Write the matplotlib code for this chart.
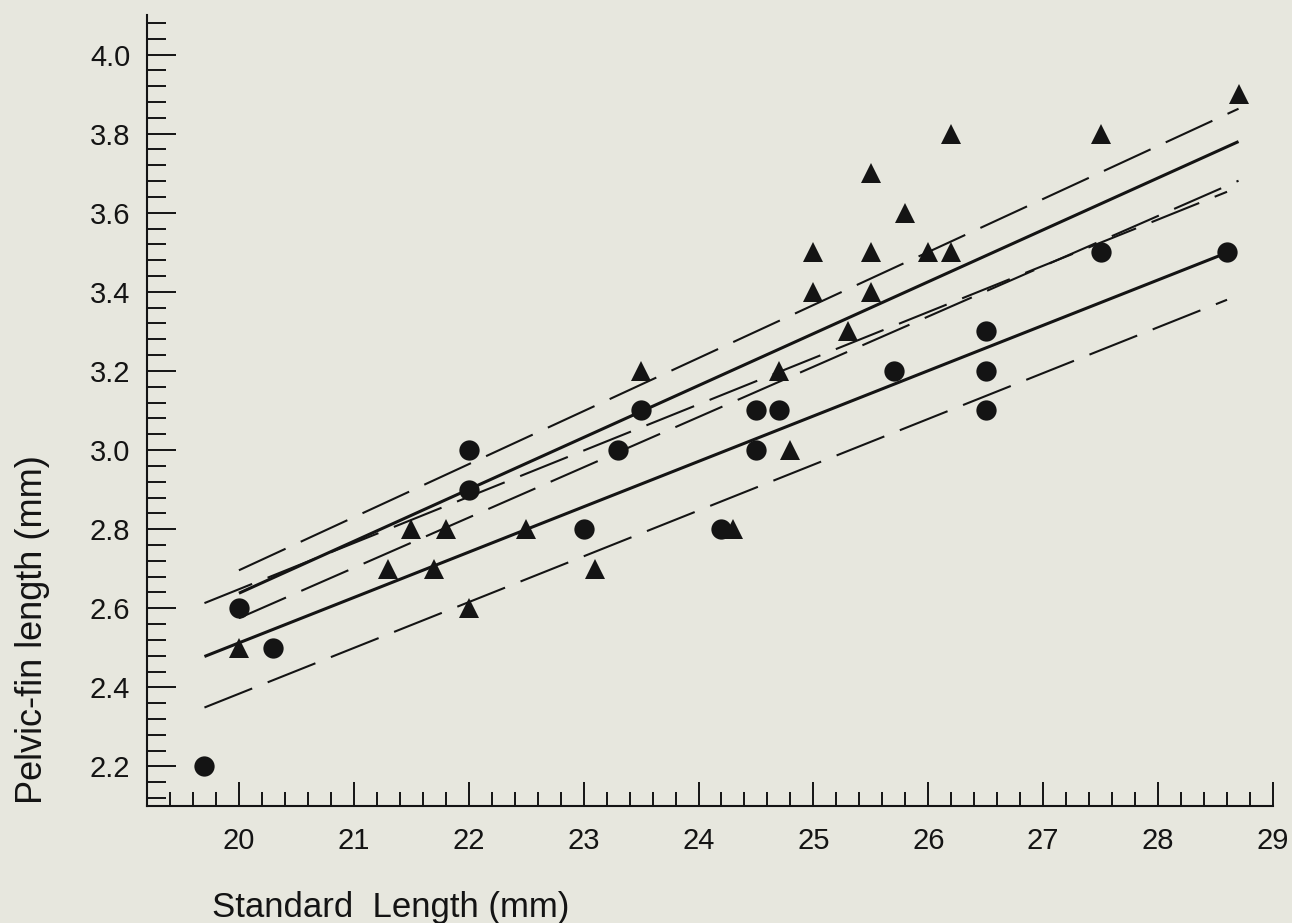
import matplotlib
matplotlib.use("Agg")
import matplotlib.pyplot as plt
from matplotlib.ticker import MultipleLocator, FormatStrFormatter

plt.rcParams['font.family'] = ['Liberation Sans', 'DejaVu Sans']
plt.rcParams['lines.scale_dashes'] = False

# ---- data ----
circle_x = [19.7, 20.0, 20.3, 22.0, 22.0, 23.0, 23.3, 23.5, 24.2, 24.5, 24.5,
            24.7, 25.7, 26.5, 26.5, 26.5, 27.5, 28.6]
circle_y = [2.2, 2.6, 2.5, 3.0, 2.9, 2.8, 3.0, 3.1, 2.8, 3.1, 3.0,
            3.1, 3.2, 3.3, 3.2, 3.1, 3.5, 3.5]

tri_x = [20.0, 21.3, 21.5, 21.7, 21.8, 22.0, 22.5, 23.1, 23.5, 24.3, 24.7, 24.8,
         25.0, 25.0, 25.3, 25.5, 25.5, 25.5, 25.8, 26.0, 26.2, 26.2, 27.5, 28.7]
tri_y = [2.5, 2.7, 2.8, 2.7, 2.8, 2.6, 2.8, 2.7, 3.2, 2.8, 3.2, 3.0,
         3.5, 3.4, 3.3, 3.7, 3.5, 3.4, 3.6, 3.5, 3.8, 3.5, 3.8, 3.9]

# regression lines and confidence bands (end points)
circle_line_x = [19.7, 28.6]
circle_fit_y = [2.478, 3.499]
circle_lo_y = [2.349, 3.380]
circle_hi_y = [2.613, 3.653]

tri_line_x = [20.0, 28.7]
tri_fit_y = [2.638, 3.780]
tri_lo_y = [2.575, 3.681]
tri_hi_y = [2.696, 3.863]

x_ticks = [20, 21, 22, 23, 24, 25, 26, 27, 28, 29]
y_ticks = [2.2, 2.4, 2.6, 2.8, 3.0, 3.2, 3.4, 3.6, 3.8, 4.0]

# ---- figure ----
W, H = 1292, 923
bg = '#e7e7de'
ink = '#141414'
fig = plt.figure(figsize=(W / 100, H / 100), dpi=100, facecolor=bg)
ax = fig.add_axes([147 / W, 1 - 806 / H, (1273 - 147) / W, (806 - 15) / H])
ax.set_facecolor(bg)

dash = (0, (37, 12))
ax.plot(circle_line_x, circle_fit_y, color=ink, lw=2.2, solid_capstyle='butt')
ax.plot(circle_line_x, circle_lo_y, color=ink, lw=1.5, linestyle=dash)
ax.plot(circle_line_x, circle_hi_y, color=ink, lw=1.5, linestyle=dash)
ax.plot(tri_line_x, tri_fit_y, color=ink, lw=2.2, solid_capstyle='butt')
ax.plot(tri_line_x, tri_lo_y, color=ink, lw=1.5, linestyle=dash)
ax.plot(tri_line_x, tri_hi_y, color=ink, lw=1.5, linestyle=dash)

ax.plot(circle_x, circle_y, linestyle='none', marker='o', markersize=14.6,
        color=ink, markeredgewidth=0)
ax.plot(tri_x, tri_y, linestyle='none', marker='^', markersize=13.8,
        color=ink, markeredgewidth=0)

ax.set_xlim(19.2, 29.0)
ax.set_ylim(2.1, 4.1)

for s in ['top', 'right']:
    ax.spines[s].set_visible(False)
for s in ['left', 'bottom']:
    ax.spines[s].set_linewidth(1.5)
    ax.spines[s].set_color(ink)

ax.set_xticks(x_ticks)
ax.set_xticklabels([str(t) for t in x_ticks])
ax.set_yticks(y_ticks)
ax.yaxis.set_major_formatter(FormatStrFormatter('%.1f'))
ax.xaxis.set_minor_locator(MultipleLocator(0.2))
ax.yaxis.set_minor_locator(MultipleLocator(0.04))

ax.tick_params(axis='both', which='both', direction='in', colors=ink,
               width=1.4, labelsize=21)
ax.tick_params(axis='y', which='major', length=21, pad=12)
ax.tick_params(axis='y', which='minor', length=13.5)
ax.tick_params(axis='x', which='major', length=17, pad=15)
ax.tick_params(axis='x', which='minor', length=10)

fig.text(212 / W, 1 - 917 / H, 'Standard  Length (mm)', ha='left',
         va='baseline', fontsize=25, color=ink)
fig.text(15 / W, 1 - 455 / H, 'Pelvic-fin length (mm)', rotation=90,
         ha='left', va='top', fontsize=26, color=ink)

fig.savefig('out.png', dpi=100, facecolor=bg)
